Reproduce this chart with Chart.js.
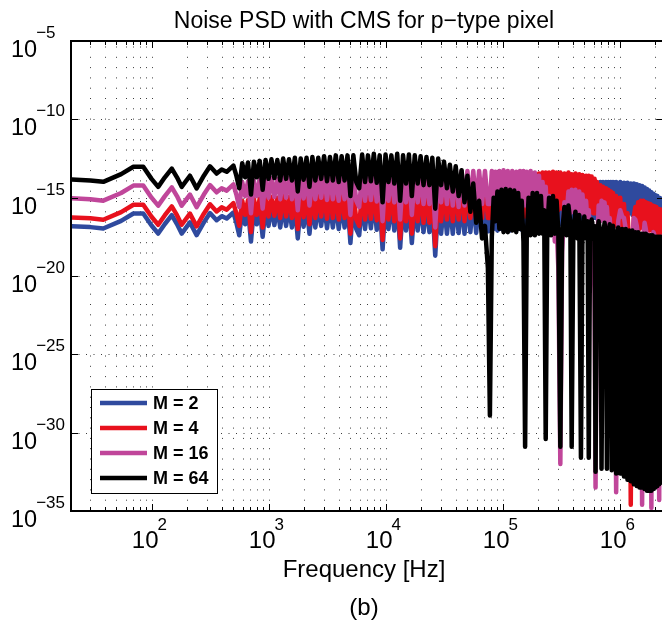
<!DOCTYPE html>
<html>
<head>
<meta charset="utf-8">
<script src="https://cdn.jsdelivr.net/npm/chart.js@4.4.1/dist/chart.umd.min.js"></script>
<style>
html,body{margin:0;padding:0;background:#fff;overflow:hidden;width:662px;height:622px}
#wrap{position:absolute;left:0;top:0;width:666px;height:622px}
</style>
</head>
<body>
<div id="wrap"><canvas id="c" width="666" height="622"></canvas></div>
<script>
const chartTitle = 'Noise PSD with CMS for p\u2212type pixel';
const xAxisTitle = 'Frequency [Hz]';
const panelLabel = '(b)';
const seriesNames = ['M = 2', 'M = 4', 'M = 16', 'M = 64'];
const seriesColors = ['#2f4a9e', '#e8111d', '#c0469a', '#000000'];
const xTickExponents = [2, 3, 4, 5, 6];
const yTickExponents = [-5, -10, -15, -20, -25, -30, -35];

// Frequency points (Hz)
const freqHz = [
  20.8, 30, 38.7, 55, 70, 85, 100, 114, 130, 149, 165, 181, 213, 243, 280, 316, 360, 398, 439,
  501, 531, 562, 596, 631, 668, 708, 750, 794, 841, 891, 944,
  1000, 1059, 1122, 1189, 1259, 1334, 1413, 1496, 1585, 1679, 1778, 1884, 1995, 2113, 2239, 2371, 2512, 2661, 2818, 2985,
  3162, 3350, 3548, 3758, 3981, 4217, 4467, 4732, 5012, 5309, 5623, 5957, 6310, 6683, 7079, 7499, 7943, 8414, 8913, 9441,
  10000, 10593, 11220, 11885, 12589, 13335, 14125, 14962, 15849, 16788, 17783, 18836, 19953, 21135, 22387, 23714, 25119, 26607,
  28184, 29854, 31623, 33497, 35481, 37584, 39811, 42170, 44668, 47315, 50119, 53088, 56234, 59566, 63096, 66834, 70795, 74989,
  78000, 81000, 84000, 87000, 90500, 94000, 98000, 102000, 106500, 111000,
  116000, 121000, 126000, 131000, 136000, 141000, 146000, 151000, 156000, 161000,
  167000, 174000, 181000, 189000, 197000, 205000, 213000, 220000, 227000, 234000,
  241000, 250000, 260000, 270000, 280000, 290000, 300000, 312000, 323000, 338000,
  352000, 366000, 380000, 390000, 403000, 420000, 437000, 453000, 468000, 482000,
  500000, 518000, 534000, 546000, 560000, 578000, 596000, 612000, 624000, 642000,
  663000, 685000, 702000, 722000, 745000, 765000, 780000, 803000, 825000, 843000,
  858000, 880000, 910000, 936000, 975000, 1014000, 1053000, 1092000, 1131000, 1170000,
  1209000, 1248000, 1287000, 1326000, 1365000, 1404000, 1443000, 1482000, 1521000, 1560000,
  1599000, 1638000, 1677000, 1716000, 1755000, 1794000, 1833000, 1872000, 1911000, 1950000,
  1989000, 2028000, 2067000, 2106000, 2145000, 2184000, 2223000, 2262000, 2301000, 2340000,
  2400000
];

// PSD values, as log10(PSD)
const log10PsdM2 = [
  -16.82, -16.88, -16.97, -16.48, -16.01, -16.01, -16.78, -17.29, -16.68, -16.12, -16.68, -17.29, -16.58, -17.39, -16.58, -15.98, -16.44, -16.18, -16.33,
  -15.95, -16.6, -17.4, -15.8, -16.7, -15.75, -17.8, -15.7, -16.7, -15.65,
  -17.5, -15.6, -16.8, -15.55, -16.75, -15.6, -16.9, -15.5, -16.8, -15.55,
  -16.9, -15.45, -17.6, -15.5, -16.85, -15.45, -17.3, -15.4, -16.9, -15.45,
  -16.8, -15.35, -16.95, -15.4, -16.9, -15.3, -17.0, -15.35, -16.9, -15.3,
  -17.9, -15.3, -17.0, -17.4, -15.25, -17.0, -15.3, -16.95, -15.2, -17.05,
  -15.3, -18.3, -15.25, -17.0, -15.3, -17.1, -15.2, -18.2, -15.3, -17.1,
  -15.25, -17.9, -15.3, -17.1, -15.35, -17.2, -15.4, -17.2, -15.4, -18.7,
  -15.4,
  -17.3, -15.4, -17.3, -15.35, -17.3, -15.3, -17.25, -15.3, -17.3, -15.2, -17.2, -15.2, -17.25, -15.15, -17.2, -15.1, -17.15,
  -17.1, -15.0, -17.0, -14.95, -17.1, -14.9, -17.0, -14.9, -17.05, -14.85,
  -17.1, -14.8, -16.95, -14.8, -17.0, -14.75, -17.05, -14.7, -16.9, -14.7,
  -16.9, -14.65, -16.95, -14.6, -16.9, -14.6, -16.85, -14.55, -16.9, -14.5,
  -16.8, -14.5, -16.8, -14.45, -16.75, -14.4, -16.8, -14.4, -16.7, -14.35,
  -16.7, -14.3, -16.6, -14.3, -16.6, -14.25, -16.6, -14.2, -16.5, -14.2,
  -16.5, -14.15, -16.4, -14.1, -16.4, -14.1, -16.3, -14.05, -16.3, -14.05,
  -16.2, -14.0, -16.2, -14.0, -16.1, -14.0, -16.1, -14.0, -16.0, -14.0,
  -16.0, -14.0, -16.0, -14.0, -16.0, -14.0, -16.0, -14.05, -16.0, -14.05,
  -16.0, -14.1, -16.1, -14.1, -16.1, -14.15, -16.2, -14.2, -16.2, -14.25,
  -16.3, -14.35, -16.4, -14.45, -16.5, -14.55, -16.6, -14.65, -16.7, -14.75,
  -16.8, -14.85, -16.9, -14.9, -17.0, -15.0, -17.1, -15.05, -17.2, -15.1,
  -17.3
];
const log10PsdM4 = [
  -16.26, -16.32, -16.41, -15.92, -15.45, -15.45, -16.22, -16.73, -16.12, -15.56, -16.12, -16.73, -16.02, -16.83, -16.02, -15.42, -15.88, -15.62, -15.77,
  -15.35, -16.0, -16.8, -15.2, -16.1, -15.15, -17.2, -15.1, -16.1, -15.05,
  -16.9, -15.0, -16.2, -14.95, -16.15, -15.0, -16.3, -14.9, -16.2, -14.95,
  -16.3, -14.85, -17.0, -14.9, -16.25, -14.85, -16.7, -14.8, -16.3, -14.85,
  -16.2, -14.75, -16.35, -14.8, -16.3, -14.7, -16.4, -14.75, -16.3, -14.7,
  -17.3, -14.7, -16.4, -16.8, -14.65, -16.4, -14.7, -16.35, -14.6, -16.45,
  -14.7, -17.7, -14.65, -16.4, -14.7, -16.5, -14.6, -17.6, -14.7, -16.5,
  -14.65, -17.3, -14.7, -16.5, -14.7, -16.6, -14.7, -16.6, -14.7, -18.1,
  -14.65,
  -16.5, -14.6, -16.4, -14.55, -16.5, -14.5, -16.4, -14.45, -16.5, -14.4, -16.3, -14.35, -16.4, -14.3, -16.3, -14.2, -16.3,
  -16.3, -14.1, -16.2, -14.0, -16.4, -13.95, -16.2, -13.9, -16.3, -13.85,
  -16.4, -13.8, -16.1, -13.75, -16.2, -13.7, -16.3, -13.65, -16.2, -13.6,
  -16.0, -13.55, -16.1, -13.5, -16.0, -13.45, -15.9, -13.4, -15.9, -13.4,
  -15.8, -13.4, -15.8, -13.35, -15.7, -13.4, -15.8, -13.4, -15.7, -13.45,
  -15.8, -13.4, -15.7, -13.5, -15.8, -13.45, -15.7, -13.5, -15.8, -13.55,
  -15.8, -13.6, -15.9, -13.6, -15.9, -13.65, -16.0, -13.8, -16.0, -14.0,
  -16.1, -14.2, -16.2, -14.3, -16.3, -14.4, -16.4, -14.5, -16.5, -14.6,
  -16.6, -14.7, -16.8, -14.9, -17.0, -15.0, -17.2, -15.4, -17.6, -16.0,
  -18.0, -34.6, -19.0, -16.2, -15.6, -17.0, -15.3, -17.0, -15.2, -16.9,
  -15.2, -17.0, -15.3, -17.0, -15.35, -17.1, -15.4, -17.1, -15.5, -17.2,
  -15.55, -17.2, -15.6, -17.3, -15.7, -17.3, -15.75, -17.4, -15.8, -17.4,
  -15.9
];
const log10PsdM16 = [
  -15.04, -15.10, -15.19, -14.70, -14.23, -14.23, -15.00, -15.51, -14.90, -14.34, -14.90, -15.51, -14.80, -15.61, -14.80, -14.20, -14.66, -14.40, -14.55,
  -14.15, -14.8, -15.6, -14.0, -14.9, -13.95, -16.0, -13.9, -14.9, -13.85,
  -15.7, -13.8, -15.0, -13.75, -14.95, -13.8, -15.1, -13.7, -15.0, -13.75,
  -15.1, -13.65, -15.8, -13.7, -15.05, -13.65, -15.5, -13.6, -15.1, -13.65,
  -15.0, -13.55, -15.15, -13.6, -15.1, -13.5, -15.2, -13.55, -15.1, -13.5,
  -16.1, -13.5, -15.2, -15.6, -13.45, -15.2, -13.5, -15.15, -13.4, -15.25,
  -13.5, -16.5, -13.45, -15.2, -13.5, -15.3, -13.4, -16.4, -13.5, -15.3,
  -13.45, -16.1, -13.5, -15.3, -13.55, -15.4, -13.6, -15.4, -13.6, -16.9,
  -13.6,
  -15.3, -13.5, -15.4, -13.4, -15.5, -13.35, -15.6, -13.3, -15.5, -13.3, -15.4, -13.3, -15.5, -13.3, -15.4, -13.3, -15.4,
  -15.4, -13.3, -15.3, -13.35, -15.5, -13.3, -15.3, -13.25, -15.4, -13.3,
  -15.5, -13.3, -15.3, -13.35, -15.4, -13.3, -15.6, -13.3, -15.5, -13.35,
  -15.4, -13.3, -15.5, -13.4, -15.5, -13.6, -15.8, -14.0, -16.0, -14.3,
  -16.4, -14.9, -17.0, -15.6, -17.8, -16.8, -19.5, -32.0, -18.5, -15.3,
  -16.2, -14.6, -16.0, -14.5, -15.9, -14.5, -15.9, -14.6, -16.0, -14.8,
  -16.3, -15.2, -16.8, -15.8, -17.5, -16.5, -19.0, -21.0, -33.5, -18.5,
  -15.5, -16.5, -15.2, -16.4, -15.3, -16.6, -15.6, -17.0, -16.3, -18.0,
  -17.5, -19.5, -22.0, -33.8, -16.5, -15.8, -16.2, -16.3, -17.0, -17.5,
  -19.5, -33.0, -17.5, -16.3, -16.4, -16.8, -17.5, -19.0, -21.0, -34.6,
  -17.5, -16.6, -17.0, -17.5, -18.5, -20.0, -22.0, -34.8, -17.8, -17.2,
  -17.4, -17.8, -18.5, -19.5, -22.0, -34.3, -18.5, -17.5, -17.6, -17.8,
  -18.0
];
const log10PsdM64 = [
  -13.84, -13.90, -13.99, -13.50, -13.03, -13.03, -13.80, -14.31, -13.70, -13.14, -13.70, -14.31, -13.60, -14.41, -13.60, -13.00, -13.46, -13.20, -13.35,
  -12.95, -13.6, -14.4, -12.8, -13.7, -12.75, -14.8, -12.7, -13.7, -12.65,
  -14.5, -12.6, -13.8, -12.55, -13.75, -12.6, -13.9, -12.5, -13.8, -12.55,
  -13.9, -12.45, -14.6, -12.5, -13.85, -12.45, -14.3, -12.4, -13.9, -12.45,
  -13.8, -12.35, -13.95, -12.4, -13.9, -12.3, -14.0, -12.35, -13.9, -12.3,
  -14.9, -12.3, -14.0, -14.4, -12.25, -14.0, -12.3, -13.95, -12.2, -14.05,
  -12.3, -15.3, -12.25, -14.0, -12.3, -14.1, -12.2, -15.2, -12.3, -14.1,
  -12.25, -14.9, -12.3, -14.1, -12.35, -14.2, -12.4, -14.2, -12.45, -15.7,
  -12.5,
  -14.2, -12.7, -14.4, -12.9, -14.6, -13.0, -14.9, -13.25, -15.3, -13.6, -15.9, -14.1, -16.6, -15.2, -17.6, -16.8, -19.5,
  -28.9, -17.5, -15.0, -16.5, -14.6, -17.0, -14.5, -17.2, -14.45, -17.2,
  -14.5, -17.1, -14.55, -17.2, -14.7, -17.0, -15.2, -17.8, -30.9, -17.6,
  -15.0, -17.4, -14.7, -17.4, -14.7, -17.3, -14.9, -17.3, -15.8, -30.4,
  -17.2, -15.0, -17.4, -14.9, -17.3, -15.2, -17.2, -30.9, -17.3, -15.6,
  -17.4, -15.5, -16.6, -30.9, -17.2, -15.9, -17.6, -16.1, -31.6, -17.4,
  -16.2, -17.6, -16.5, -31.6, -17.5, -16.4, -17.6, -16.8, -32.5, -17.5,
  -16.5, -17.2, -32.3, -17.6, -16.6, -17.4, -32.3, -17.3, -16.7, -17.6,
  -32.4, -16.8, -17.5, -32.6, -16.9, -32.6, -17.0, -32.8, -17.0, -33.0,
  -17.1, -33.1, -17.1, -33.3, -17.2, -33.4, -17.2, -33.5, -17.3, -33.5,
  -17.3, -33.6, -17.3, -33.7, -17.4, -33.7, -17.4, -33.7, -17.4, -33.6,
  -17.5, -33.5, -17.5, -33.4, -17.5, -33.3, -17.5, -33.2, -17.6, -33.2,
  -17.6
];

const psdSeries = [log10PsdM2, log10PsdM4, log10PsdM16, log10PsdM64];
const FONT = '"Liberation Sans", Arial, Helvetica, sans-serif';

const decor = {
  id: 'decor',
  beforeDatasetsDraw(chart) {
    const { ctx, chartArea: a } = chart;
    const xs = chart.scales.x, ys = chart.scales.y;
    ctx.save();
    ctx.strokeStyle = '#3c3c3c';
    ctx.lineWidth = 1;
    ctx.setLineDash([1, 9.3]);
    for (let e = 1; e <= 6; e++) {
      for (let m = 1; m <= 9; m++) {
        const v = m * Math.pow(10, e);
        const px = Math.round(xs.getPixelForValue(v)) + 0.5;
        if (px <= a.left + 2 || px >= a.right - 2) continue;
        ctx.beginPath(); ctx.moveTo(px, a.bottom); ctx.lineTo(px, a.top); ctx.stroke();
      }
    }
    ctx.setLineDash([1, 6.5]);
    yTickExponents.forEach(e => {
      const py = Math.round(ys.getPixelForValue(Math.pow(10, e))) + 0.5;
      if (py <= a.top + 2 || py >= a.bottom - 2) return;
      ctx.beginPath(); ctx.moveTo(a.left, py); ctx.lineTo(a.right, py); ctx.stroke();
    });
    ctx.restore();
  },
  afterDatasetsDraw(chart) {
    const { ctx, chartArea: a } = chart;
    const xs = chart.scales.x, ys = chart.scales.y;
    ctx.save();
    ctx.setLineDash([]);
    // ticks
    ctx.strokeStyle = '#000';
    ctx.lineWidth = 1;
    for (let e = 1; e <= 6; e++) {
      for (let m = 1; m <= 9; m++) {
        const v = m * Math.pow(10, e);
        const px = Math.round(xs.getPixelForValue(v)) + 0.5;
        if (px <= a.left + 1 || px >= a.right - 1) continue;
        const len = m === 1 ? 7 : 4;
        ctx.beginPath();
        ctx.moveTo(px, a.bottom); ctx.lineTo(px, a.bottom - len);
        ctx.moveTo(px, a.top); ctx.lineTo(px, a.top + len);
        ctx.stroke();
      }
    }
    yTickExponents.forEach(e => {
      const py = Math.round(ys.getPixelForValue(Math.pow(10, e))) + 0.5;
      ctx.beginPath();
      ctx.moveTo(a.left, py); ctx.lineTo(a.left + 7, py);
      ctx.moveTo(a.right, py); ctx.lineTo(a.right - 7, py);
      ctx.stroke();
    });
    // frame
    ctx.lineWidth = 2;
    ctx.strokeRect(a.left, a.top, a.right - a.left, a.bottom - a.top);

    // tick labels
    ctx.fillStyle = '#000';
    ctx.textBaseline = 'alphabetic';
    xTickExponents.forEach(e => {
      const px = xs.getPixelForValue(Math.pow(10, e));
      ctx.font = '24px ' + FONT;
      ctx.textAlign = 'right';
      ctx.fillText('10', px + 7, 548);
      ctx.font = '17px ' + FONT;
      ctx.textAlign = 'left';
      ctx.fillText(String(e), px + 6, 530);
    });
    yTickExponents.forEach(e => {
      const py = ys.getPixelForValue(Math.pow(10, e));
      ctx.font = '23.5px ' + FONT;
      ctx.textAlign = 'left';
      ctx.fillText('10', 11, py + 16);
      const w = ctx.measureText('10').width;
      ctx.font = '17px ' + FONT;
      ctx.fillText('\u2212' + Math.abs(e), 11 + w - 1, py - 3);
    });

    // titles
    ctx.textAlign = 'center';
    ctx.font = '23px ' + FONT;
    ctx.fillText(chartTitle, 364, 28);
    ctx.font = '24px ' + FONT;
    ctx.fillText(xAxisTitle, 364, 577);
    ctx.fillText(panelLabel, 364, 615);

    // legend
    const lx = 91, ly = 389, lw = 126, lh = 104;
    ctx.fillStyle = '#fff';
    ctx.fillRect(lx, ly, lw, lh);
    ctx.lineWidth = 1;
    ctx.strokeStyle = '#000';
    ctx.strokeRect(lx + 0.5, ly + 0.5, lw, lh);
    ctx.font = 'bold 18px ' + FONT;
    ctx.textAlign = 'left';
    ctx.textBaseline = 'middle';
    seriesNames.forEach((name, i) => {
      const yy = ly + 14 + i * 25;
      ctx.strokeStyle = seriesColors[i];
      ctx.lineWidth = 4.5;
      ctx.beginPath(); ctx.moveTo(lx + 9, yy); ctx.lineTo(lx + 56, yy); ctx.stroke();
      ctx.fillStyle = '#000';
      ctx.fillText(name, lx + 62, yy + 1);
    });
    ctx.restore();
  }
};

new Chart(document.getElementById('c'), {
  type: 'line',
  data: {
    datasets: psdSeries.map((s, i) => ({
      label: seriesNames[i],
      data: freqHz.map((f, j) => ({ x: f, y: Math.pow(10, s[j]) })),
      borderColor: seriesColors[i],
      backgroundColor: seriesColors[i],
      borderWidth: 4.5,
      pointRadius: 0,
      fill: false,
      tension: 0,
      borderJoinStyle: 'round',
      borderCapStyle: 'round',
      order: 4 - i,
      clip: 0
    }))
  },
  options: {
    responsive: false,
    animation: false,
    devicePixelRatio: 1,
    layout: { padding: { left: 71, right: 2, top: 41, bottom: 111 } },
    plugins: { legend: { display: false }, tooltip: { enabled: false }, title: { display: false } },
    scales: {
      x: { type: 'logarithmic', min: 20.5, max: 2.4e6, display: false },
      y: { type: 'logarithmic', min: 1e-35, max: 1e-5, display: false }
    }
  },
  plugins: [decor]
});
</script>
</body>
</html>
